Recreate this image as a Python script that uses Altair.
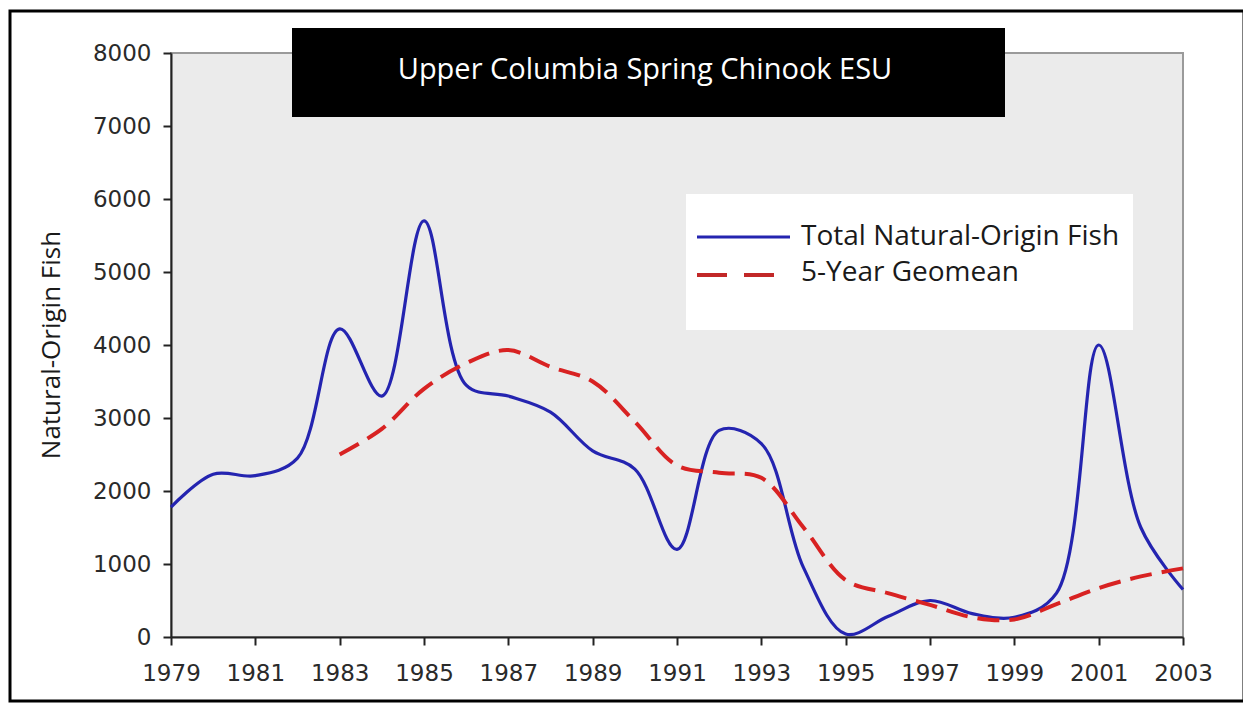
import altair as alt
import pandas as pd

years = list(range(1979, 2004))
total_fish = [1780, 2230, 2210, 2450, 4220, 3300, 5700, 3450, 3300, 3080,
              2550, 2300, 1200, 2830, 2650, 950, 40, 280, 500, 320,
              270, 600, 4000, 1500, 650]

geo_years = list(range(1983, 2004))
geomean = [2500, 2850, 3400, 3750, 3930, 3700, 3500, 2950, 2350, 2250,
           2180, 1500, 780, 600, 440, 270, 240, 450, 670, 830, 940]

x_ticks = list(range(1979, 2004, 2))
y_ticks = list(range(0, 8001, 1000))

title_text = "Upper Columbia Spring Chinook ESU"
series_names = ["Total Natural-Origin Fish", "5-Year Geomean"]
y_title = "Natural-Origin Fish"

df_total = pd.DataFrame({"year": years, "value": total_fish})
df_geo = pd.DataFrame({"year": geo_years, "value": geomean})
one = pd.DataFrame({"k": [0]})

W, H = 1012, 584

x_enc = alt.X("year:Q", scale=alt.Scale(domain=[1979, 2003], nice=False),
              axis=alt.Axis(values=x_ticks, format="d", title=None, grid=False,
                            labelFont="DejaVu Sans", labelFontSize=23, labelColor="#2a2a2a",
                            labelOverlap=False, labelFlush=False,
                            tickSize=8, tickColor="#222", tickWidth=2,
                            domainColor="#222", domainWidth=2, labelPadding=17))
y_enc = alt.Y("value:Q", scale=alt.Scale(domain=[0, 8000], nice=False),
              axis=alt.Axis(values=y_ticks, format="d", title=None, grid=False,
                            labelFont="DejaVu Sans", labelFontSize=23, labelColor="#2a2a2a",
                            labelOverlap=False, labelFlush=False,
                            tickSize=8, tickColor="#222", tickWidth=2,
                            domainColor="#222", domainWidth=2, labelPadding=12))

blue = alt.Chart(df_total).mark_line(color="#2424b0", strokeWidth=3.2,
                                     interpolate="catmull-rom").encode(x=x_enc, y=y_enc)
red = alt.Chart(df_geo).mark_line(color="#d82222", strokeWidth=4, strokeDash=[22, 10],
                                  interpolate="catmull-rom").encode(x="year:Q", y="value:Q")

# Title box
tbox = alt.Chart(one).mark_rect(color="black").encode(
    x=alt.value(121), x2=alt.value(834), y=alt.value(-25), y2=alt.value(64))
ttext = alt.Chart(one).mark_text(text=title_text, color="white", font="Open Sans",
                                 fontSize=29, align="center", baseline="middle").encode(
    x=alt.value(474), y=alt.value(17))

# Legend
lbox = alt.Chart(one).mark_rect(color="white").encode(
    x=alt.value(515), x2=alt.value(962), y=alt.value(141), y2=alt.value(277))
lblue = alt.Chart(one).mark_rule(color="#2424b0", strokeWidth=3).encode(
    x=alt.value(526), x2=alt.value(619), y=alt.value(184))
lred = alt.Chart(one).mark_rule(color="#c22828", strokeWidth=4, strokeDash=[30, 17]).encode(
    x=alt.value(526), x2=alt.value(612), y=alt.value(222))
ltext1 = alt.Chart(one).mark_text(text=series_names[0], color="#1a1a1a", font="Open Sans",
                                  fontSize=28, align="left", baseline="middle").encode(
    x=alt.value(630), y=alt.value(184))
ltext2 = alt.Chart(one).mark_text(text=series_names[1], color="#1a1a1a", font="Open Sans",
                                  fontSize=28, align="left", baseline="middle").encode(
    x=alt.value(630), y=alt.value(220))

# Y-axis title
ytitle = alt.Chart(one).mark_text(text=y_title, color="#1a1a1a", font="Open Sans",
                                  fontSize=26, angle=270, align="center", baseline="middle").encode(
    x=alt.value(-119), y=alt.value(292))

# Outer frame
frame = alt.Chart(one).mark_rect(fill=None, stroke="black", strokeWidth=3, fillOpacity=0).encode(
    x=alt.value(-161), x2=alt.value(1073), y=alt.value(-42), y2=alt.value(648))

chart = alt.layer(blue, red, tbox, ttext, lbox, lblue, lred, ltext1, ltext2, ytitle, frame).properties(
    width=W, height=H,
    autosize=alt.AutoSizeParams(type="none"),
    padding={"left": 163, "top": 45, "right": 60, "bottom": 66},
    background="white",
).configure_view(fill="#ebebeb", stroke="#9a9a9a", strokeWidth=2)

chart.save("out.html", embed_options={"renderer": "svg", "actions": False})
